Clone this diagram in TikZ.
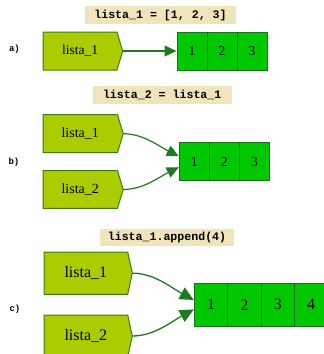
\documentclass[tikz,border=0pt]{standalone}
\usepackage{fontspec}
\setmainfont{Liberation Serif}
\newfontfamily\codefont{Liberation Mono}
\usetikzlibrary{arrows.meta}

\definecolor{varfill}{HTML}{AACC00}
\definecolor{varline}{HTML}{3C7C14}
\definecolor{cellfill}{HTML}{00C800}
\definecolor{cellline}{HTML}{1E6E1E}
\definecolor{titlebg}{HTML}{EFE4BA}
\definecolor{refcol}{HTML}{1E7A1E}

\tikzset{
  varshape/.style={fill=varfill, draw=varline, line width=1pt, line join=miter},
  cell/.style={draw=cellline, fill=cellfill, line width=1pt, inner sep=0pt},
  codetitle/.style={fill=titlebg, inner sep=0pt, font=\codefont\bfseries\fontsize{11.6}{13}\selectfont},
  panel/.style={font=\codefont\bfseries\fontsize{9}{10}\selectfont},
  refarrow/.style={draw=refcol, line width=1.2pt, -{Triangle[length=12pt,width=11pt]}},
  bigarrow/.style={draw=refcol, line width=1.3pt, -{Triangle[length=14pt,width=13pt]}}
}

% variable box with a pointed right side:
% #1 name, #2 left, #3 top, #4 right of the body, #5 bottom, #6 tip x, #7 text, #8 font size
\newcommand\varbox[8]{%
  \draw[varshape] (#2,#3) -- (#4,#3) -- (#6,{(#3+#5)/2}) -- (#4,#5) -- (#2,#5) -- cycle;
  \node[font=\fontsize{#8}{#8}\selectfont] (#1) at ({(#2+#4)/2},{(#3+#5)/2}) {#7};
  \coordinate (#1tip) at (#6,{(#3+#5)/2});
}

\begin{document}
\begin{tikzpicture}[x=1pt,y=-1pt]
\useasboundingbox (0,0) rectangle (324,354);
\clip (0,0) rectangle (324,354);

% ---- a) ----
\node[codetitle, minimum width=151pt, minimum height=18pt] (ta) at (160.5,15) {lista\_1 = [1, 2, 3]};
\node[panel] (la) at (14.5,49) {a)};
\varbox{av}{43}{32}{117}{70}{122.7}{lista\_1}{13.5}
\begin{scope}[every node/.style={cell, minimum width=30pt, minimum height=38pt, font=\fontsize{13.5}{14}\selectfont}]
  \node (a1) at (192,51) {1};
  \node (a2) at (222,51) {2};
  \node (a3) at (252,51) {3};
\end{scope}
\draw[refarrow] (avtip) -- (a1.west);

% ---- b) ----
\node[codetitle, minimum width=139pt, minimum height=18pt] (tb) at (162.2,95) {lista\_2 = lista\_1};
\node[panel] (lb) at (14,162) {b)};
\varbox{bv1}{43}{114.7}{117.5}{152.7}{123.2}{lista\_1}{14}
\varbox{bv2}{43}{170.7}{117.5}{208.3}{123.2}{lista\_2}{14}
\begin{scope}[every node/.style={cell, minimum width=30pt, minimum height=38pt, font=\fontsize{14}{15}\selectfont}]
  \node (b1) at (194.3,161.7) {1};
  \node (b2) at (224.3,161.7) {2};
  \node (b3) at (254.3,161.7) {3};
\end{scope}
\draw[refarrow] (bv1tip) .. controls +(20,0) and +(-20,-10) .. ([yshift=5.5pt]b1.west);
\draw[refarrow] (bv2tip) .. controls +(20,0) and +(-20,10) .. ([yshift=-5.5pt]b1.west);

% ---- c) ----
\node[codetitle, minimum width=134pt, minimum height=17pt] (tc) at (167,237.5) {lista\_1.append(4)};
\node[panel] (lc) at (15,309) {c)};
\varbox{cv1}{44}{252}{127.7}{294.3}{132.3}{lista\_1}{16}
\varbox{cv2}{44}{315}{127.7}{357}{132.3}{lista\_2}{16}
\begin{scope}[every node/.style={cell, minimum width=33.4pt, minimum height=42.7pt, font=\fontsize{16}{17}\selectfont}]
  \node (c1) at (211,304.7) {1};
  \node (c2) at (244.4,304.7) {2};
  \node (c3) at (277.8,304.7) {3};
  \node (c4) at (311.2,304.7) {4};
\end{scope}
\draw[bigarrow] (cv1tip) .. controls +(22,0) and +(-22,-12) .. ([yshift=4.7pt]c1.west);
\draw[bigarrow] (cv2tip) .. controls +(22,0) and +(-22,12) .. ([yshift=-4.7pt]c1.west);
\end{tikzpicture}
\end{document}
